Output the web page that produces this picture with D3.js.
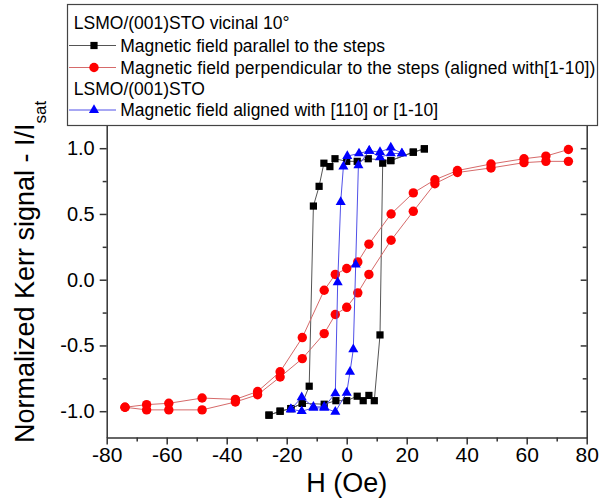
<!DOCTYPE html>
<html>
<head>
<meta charset="utf-8">
<script src="https://cdn.jsdelivr.net/npm/d3@7"></script>
<style>
  html, body { margin: 0; padding: 0; background: #fff; }
  svg text { font-family: "Liberation Sans", Arial, sans-serif; fill: #000; }
</style>
</head>
<body>
<svg id="chart" width="601" height="500"></svg>
<script>
// ---- data (H in Oe, normalized Kerr signal) ----
const blackDescX = [25.9, 22.2, 14.7, 7.2, 3.5, 0, -3.9, -5.6, -7.6, -9.2, -11.1, -12.5, -14.8, -18.6, -22.2, -25.9];
const blackDescY = [0.995, 0.97, 0.906, 0.92, 0.90, 0.90, 0.92, 0.86, 0.886, 0.71, 0.56, -0.81, -0.94, -0.98, -1.0, -1.03];
const blackAscX  = [-25.9, -22.2, -18.6, -14.8, -7.5, -3.6, 0, 3.5, 5.5, 7.4, 9.2, 11.1, 12.0, 14.7, 22.2, 25.9];
const blackAscY  = [-1.03, -1.0, -0.98, -0.94, -0.947, -0.92, -0.92, -0.886, -0.92, -0.88, -0.92, -0.42, 0.886, 0.906, 0.97, 0.995];

const redDescX = [73.9, 66.4, 59.1, 48.1, 36.9, 29.4, 22.2, 14.8, 7.4, 3.7, 0, -3.8, -7.5, -14.8, -22.2, -29.7, -37.1, -48.2, -59.3, -66.7, -73.9];
const redDescY = [0.99, 0.94, 0.92, 0.88, 0.83, 0.76, 0.66, 0.50, 0.27, 0.135, 0.085, 0.04, -0.08, -0.44, -0.70, -0.85, -0.91, -0.90, -0.94, -0.95, -0.97];
const redAscX  = [-73.9, -66.7, -59.3, -48.2, -37.1, -29.7, -22.2, -14.8, -7.5, -3.8, 0, 3.7, 7.4, 14.8, 22.2, 29.4, 36.9, 48.1, 59.1, 66.4, 73.9];
const redAscY  = [-0.97, -0.99, -0.99, -0.99, -0.93, -0.875, -0.74, -0.60, -0.41, -0.265, -0.21, -0.10, 0.04, 0.30, 0.52, 0.73, 0.815, 0.85, 0.89, 0.90, 0.90];

const blueDescX = [18.4, 14.7, 11.1, 7.5, 4.1, 0.2, -1.1, -2.0, -3.0, -3.8, -7.5, -11.1, -15.0, -18.6];
const blueDescY = [0.96, 1.005, 0.97, 0.98, 0.96, 0.94, 0.86, 0.59, -0.02, -0.865, -0.967, -0.967, -0.895, -0.985];
const blueAscX  = [-18.6, -15.0, -11.1, -7.5, -3.8, 0, 1.1, 2.2, 3.0, 3.9, 7.5, 11.1, 14.7, 18.4];
const blueAscY  = [-0.985, -1.0, -0.975, -0.975, -1.005, -0.86, -0.70, -0.53, 0.115, 0.87, 0.98, 0.93, 0.96, 0.96];

const xTicks = [-80, -60, -40, -20, 0, 20, 40, 60, 80];
const xMinorTicks = [-70, -50, -30, -10, 10, 30, 50, 70];
const yTicks = [-1.0, -0.5, 0.0, 0.5, 1.0];
const yMinorTicks = [-0.75, -0.25, 0.25, 0.75];

const legendHeader1 = "LSMO/(001)STO vicinal 10°";
const legendBlack = "Magnetic field parallel to the steps";
const legendRed = "Magnetic field perpendicular to the steps (aligned with[1-10])";
const legendHeader2 = "LSMO/(001)STO";
const legendBlue = "Magnetic field aligned with [110] or [1-10]";

// ---- layout ----
const svg = d3.select("#chart");
const L = 106.7, R = 586.7, T = 121.9, B = 437.5;
const x = d3.scaleLinear().domain([-80, 80]).range([L, R]);
const y = d3.scaleLinear().domain([-1.2, 1.2]).range([B, T]);

const zip = (xs, ys) => xs.map((v, i) => [v, ys[i]]);
const line = d3.line().x(d => x(d[0])).y(d => y(d[1]));

function drawSeries(desc, asc, lineColor, drawMarker) {
  const g = svg.append("g");
  const pts = desc.concat(asc);
  g.append("path").datum(desc).attr("d", line).attr("fill", "none").attr("stroke", lineColor).attr("stroke-width", 1);
  g.append("path").datum(asc).attr("d", line).attr("fill", "none").attr("stroke", lineColor).attr("stroke-width", 1);
  pts.forEach(p => drawMarker(g, x(p[0]), y(p[1])));
}
const sq = d3.symbol().type(d3.symbolSquare).size(52)();
const tri = d3.symbol().type(d3.symbolTriangle).size(44)();
const markBlack = (g, cx, cy) => g.append("path").attr("d", sq).attr("transform", `translate(${cx},${cy})`).attr("fill", "#000");
const markRed = (g, cx, cy) => g.append("circle").attr("cx", cx).attr("cy", cy).attr("r", 4.7).attr("fill", "#ff0000");
const markBlue = (g, cx, cy) => g.append("path").attr("d", tri).attr("transform", `translate(${cx},${cy})`).attr("fill", "#0000ff");

drawSeries(zip(blackDescX, blackDescY), zip(blackAscX, blackAscY), "#555555", markBlack);
drawSeries(zip(redDescX, redDescY), zip(redAscX, redAscY), "#d66a6a", markRed);
drawSeries(zip(blueDescX, blueDescY), zip(blueAscX, blueAscY), "#5050e8", markBlue);

// ---- axes ----
const axisColor = "#333";
const fam = '"Liberation Sans", Arial, sans-serif';
function styleAxis(g) {
  g.select(".domain").attr("stroke", axisColor).attr("stroke-width", 1.5);
  g.selectAll(".tick line").attr("stroke", axisColor).attr("stroke-width", 1.5);
}
const gx = svg.append("g").attr("transform", `translate(0,${B})`)
  .call(d3.axisBottom(x).tickValues(xTicks).tickFormat(d => String(d)).tickSize(7).tickPadding(3).tickSizeOuter(0));
styleAxis(gx);
gx.selectAll("text").attr("font-size", 21).style("font-family", fam);
const gxm = svg.append("g").attr("transform", `translate(0,${B})`)
  .call(d3.axisBottom(x).tickValues(xMinorTicks).tickFormat("").tickSize(4).tickSizeOuter(0));
styleAxis(gxm); gxm.select(".domain").remove();

const gy = svg.append("g").attr("transform", `translate(${L},0)`)
  .call(d3.axisLeft(y).tickValues(yTicks).tickFormat(d => d.toFixed(1)).tickSize(7).tickPadding(5).tickSizeOuter(0));
styleAxis(gy);
gy.selectAll("text").attr("font-size", 20).style("font-family", fam);
const gym = svg.append("g").attr("transform", `translate(${L},0)`)
  .call(d3.axisLeft(y).tickValues(yMinorTicks).tickFormat("").tickSize(4).tickSizeOuter(0));
styleAxis(gym); gym.select(".domain").remove();

const gr = svg.append("g").attr("transform", `translate(${R},0)`)
  .call(d3.axisRight(y).tickValues(yTicks).tickFormat("").tickSize(-6).tickSizeOuter(0));
styleAxis(gr);
const grm = svg.append("g").attr("transform", `translate(${R},0)`)
  .call(d3.axisRight(y).tickValues(yMinorTicks).tickFormat("").tickSize(-4).tickSizeOuter(0));
styleAxis(grm); grm.select(".domain").remove();

svg.append("line").attr("x1", L).attr("x2", R).attr("y1", T).attr("y2", T).attr("stroke", axisColor).attr("stroke-width", 1.5);

// ---- axis titles ----
svg.append("text").attr("x", (L + R) / 2).attr("y", 492).attr("text-anchor", "middle")
  .attr("font-size", 27).text("H (Oe)");
const yt = svg.append("text").attr("transform", "translate(33.5,443) rotate(-90)").attr("text-anchor", "start")
  .attr("font-size", 27);
yt.append("tspan").text("Normalized Kerr signal - I/I");
yt.append("tspan").attr("dy", 12).attr("font-size", 17).text("sat");

// ---- legend ----
const lg = svg.append("g");
lg.append("rect").attr("x", 67.5).attr("y", 4.5).attr("width", 530).attr("height", 121)
  .attr("fill", "#fff").attr("stroke", "#444").attr("stroke-width", 1.2);
const rowY = [29, 51.5, 73.5, 95, 116];
const lfs = 17.5;
lg.append("text").attr("x", 73.8).attr("y", rowY[0]).attr("font-size", lfs).text(legendHeader1);
lg.append("text").attr("x", 73.8).attr("y", rowY[3]).attr("font-size", lfs).text(legendHeader2);
const rows = [
  {yy: rowY[1], color: "#555555", mark: markBlack, label: legendBlack, len: null},
  {yy: rowY[2], color: "#d66a6a", mark: markRed, label: legendRed, len: 475},
  {yy: rowY[4], color: "#5050e8", mark: markBlue, label: legendBlue, len: null}
];
rows.forEach(r => {
  const cy = r.yy - 6;
  lg.append("line").attr("x1", 69).attr("x2", 116).attr("y1", cy).attr("y2", cy).attr("stroke", r.color).attr("stroke-width", 1);
  r.mark(lg, 94, cy);
  const t = lg.append("text").attr("x", 120.3).attr("y", r.yy).attr("font-size", lfs).text(r.label);
  if (r.len) t.attr("textLength", r.len).attr("lengthAdjust", "spacing");
});
</script>
</body>
</html>
